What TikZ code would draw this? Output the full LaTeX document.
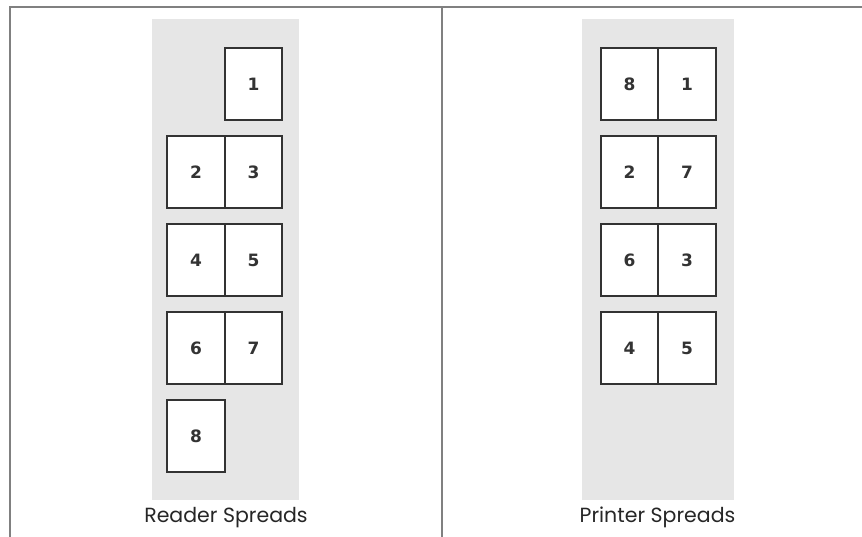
\documentclass[tikz,border=0pt]{standalone}
\usepackage{fontspec}
\setmainfont{Lato}
\newfontfamily\capfont{Poppins}
\newfontfamily\digitfont{DejaVu Sans}
\usetikzlibrary{positioning}
\definecolor{panelgray}{HTML}{E6E6E6}
\definecolor{framegray}{HTML}{808080}
\definecolor{pageline}{HTML}{333333}

\begin{document}
\begin{tikzpicture}[x=1pt, y=-1pt,
    page/.style={draw=pageline, line width=2pt, fill=white, minimum width=57.5pt, minimum height=72pt,
                 inner sep=0pt, outer sep=0pt, text=pageline, font=\digitfont\fontsize{17}{17}\selectfont\bfseries},
    panel/.style={fill=panelgray, inner sep=0pt, outer sep=0pt, anchor=north west, minimum height=481pt},
    caption/.style={font=\capfont\fontsize{20.5}{20.5}\selectfont, text=black!85, anchor=base}]
    \useasboundingbox (0,0) rectangle (862,537);

    % frame
    \draw[framegray, line width=2pt] (9,7) -- (862,7);
    \draw[framegray, line width=2pt] (10,7) -- (10,537);
    \draw[framegray, line width=2pt] (442,7) -- (442,537);

    % grey backgrounds
    \node (readerbg) [panel, minimum width=147pt] at (152,19) {};
    \node (printerbg) [panel, minimum width=152pt] at (582,19) {};

    % reader spreads
    \node (rd1) [page] at (253.5,84) {1};
    \foreach \a/\b/\c in {3/2/1, 5/4/3, 7/6/5} {
        \node (rd\a) [page, below=16pt of rd\c] {\a};
        \node (rd\b) [page, left=0pt of rd\a] {\b};
    }
    \node (rd8) [page, below=16pt of rd6] {8};

    % printer spreads
    \node (pr1) [page] at (687,84) {1};
    \node (pr8) [page, left=0pt of pr1] {8};
    \foreach \a/\b/\c in {7/2/1, 3/6/7, 5/4/3} {
        \node (pr\a) [page, below=16pt of pr\c] {\a};
        \node (pr\b) [page, left=0pt of pr\a] {\b};
    }

    \node (rdcap) [caption] at (226,522) {Reader Spreads};
    \node (prcap) [caption] at (657.5,522) {Printer Spreads};
\end{tikzpicture}
\end{document}
